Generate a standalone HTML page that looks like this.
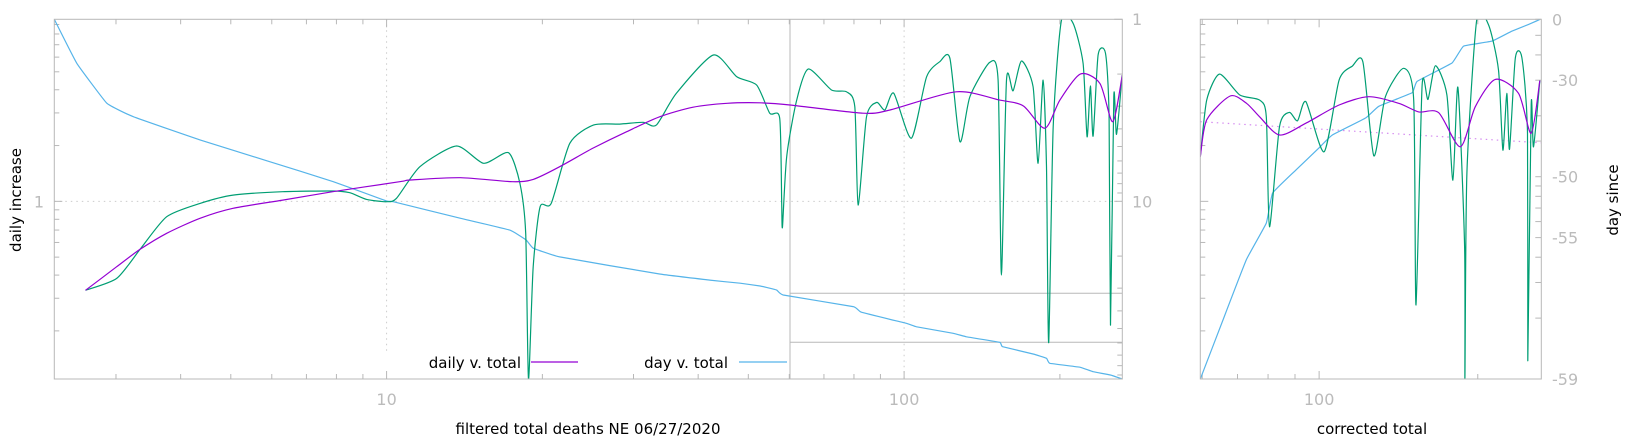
<!DOCTYPE html>
<html><head><meta charset="utf-8"><style>
html,body{margin:0;padding:0;background:#fff;}
svg{display:block;font-family:"DejaVu Sans","Liberation Sans",sans-serif;}
.tl{fill:#bbbbbb;font-size:16px;}
.ttl{fill:#000;font-size:15px;}
</style></head><body>
<svg id="chart" width="1640" height="440" viewBox="0 0 1640 440" xmlns="http://www.w3.org/2000/svg">
<defs>
<clipPath id="cm"><rect x="54.3" y="19.3" width="1068" height="359.7"/></clipPath>
<clipPath id="cr"><rect x="1200.3" y="19.3" width="341" height="359.7"/></clipPath>
</defs>
<g id="g"></g>
</svg>
<script>
// ---- main panel data: x = total deaths ----
const purpleX = [2.62,3.01,3.34,3.76,4.36,5.05,6.30,7.87,10.6,11.1,13.9,17.5,19.2,21.6,25.0,29.1,33.7,39.1,45.5,52.7,60.2,83.2,93.9,126,153,170,187,200,219,239,253,264];
const purpleY = [0.331,0.444,0.551,0.672,0.810,0.917,1.016,1.127,1.276,1.303,1.341,1.276,1.314,1.537,1.93,2.375,2.86,3.22,3.38,3.40,3.31,2.99,3.11,3.90,3.52,3.27,2.48,3.52,4.86,4.33,2.69,4.80];
const greenX = [2.62,3.01,3.34,3.76,4.36,5.05,6.30,7.87,8.49,9.15,10,10.45,11.6,13.65,15.4,17.2,18.1,18.57,18.8,19.2,19.8,20.8,22.6,25.1,28.2,31.3,33.2,36.3,42.8,47.5,51.9,55.0,57.5,58.0,58.2,59.3,62.0,65.3,72.4,77.4,80.3,81.5,84.6,88.5,91.8,95.5,103.3,110.5,117.2,122.6,128.2,134,146.4,151.9,154.2,157.7,162.4,168.6,177.5,181.5,185.6,188.4,190.3,194.1,201.4,212.1,221.7,225.7,229.1,231.8,237.1,245,248.9,250.5,254.2,257.3,263.8];
const greenY = [0.331,0.384,0.551,0.826,0.975,1.081,1.127,1.137,1.113,1.025,0.995,1.038,1.537,1.988,1.604,1.829,1.251,0.672,0.11,0.444,0.935,0.975,2.056,2.58,2.61,2.67,2.58,3.83,6.16,4.70,4.24,2.99,2.81,0.975,0.729,1.741,3.52,5.18,3.99,3.90,3.24,0.955,2.86,3.42,3.11,3.83,2.19,4.70,5.67,5.91,2.10,3.67,5.63,4.51,0.40,4.51,3.95,5.72,4.15,1.604,4.51,1.537,0.173,2.53,9.52,9.13,5.56,2.23,4.19,2.25,6.16,6.29,2.86,0.215,3.67,2.30,4.80];
const blueX = [2.28,2.52,2.88,3.24,4.36,5.86,7.89,10,10.3,13.9,17.3,18.6,19.2,21.6,33.7,42.1,48.2,52.7,56.7,58.4,79.7,82.7,101,105.7,124.4,132,153,155,177.5,188.4,191.2,219,231.8,250.5,263.8];
const blueY = [1,1.745,2.89,3.43,4.60,5.98,7.80,9.96,10.05,12.4,14.4,16.3,18.1,20.2,25.1,27.1,28.2,29.2,30.7,32.7,37.9,40.7,46.8,48.9,53.1,55.5,59.5,62.9,69.0,72.9,77.6,81.7,86.4,90.0,94.7];
// ---- right panel data: x = corrected total ----
const rPurpleX = [59.5,61.2,67.8,72.8,77.1,84.1,94.4,109.1,124.3,141.6,154.5,168.6,185.3,197.9,215.9,239,252.6,262.3];
const rPurpleY = [1.741,2.75,3.70,3.38,2.86,2.28,2.64,3.31,3.67,3.38,3.04,3.01,1.97,3.24,4.55,3.83,2.33,4.48];
const rGreenX = [59.5,61.2,64.7,70.7,77.1,79.4,80.5,84.1,87.8,91.0,94.4,102.2,109.1,115.6,121.1,127,133.6,144.7,151.2,152.7,156.8,160.9,166.2,174.8,179.4,183.4,188.8,189.1,190.7,199.2,209.7,219,223.2,227.1,229.8,235.6,242.5,248.6,248.9,252.6,255.2,262.3];
const rGreenY = [1.741,3.52,4.86,3.75,3.52,2.86,0.729,2.53,3.02,2.72,3.45,1.85,4.51,5.37,5.65,1.76,3.67,5.22,3.52,0.276,4.21,3.55,5.39,3.75,1.30,4.12,0.569,0.11,1.416,9.6,8.94,5.11,1.89,3.83,1.91,5.91,5.96,2.33,0.138,3.31,1.97,4.48];
const rBlueX = [59.5,65.9,72.8,79.4,81.6,90.4,100,106,122.5,129.8,150.1,153.4,178.7,188,212.8,232.1,249.7,262.3];
const rBlueDay = [-59,-58.0,-56.1,-54.1,-51.7,-49.2,-46.1,-43.9,-40.5,-37.7,-34.0,-30.4,-23.5,-15.8,-13.2,-7.6,-3.4,0];
const trendX = [59.5,264];
const trendY = [2.69,2.07];
const dayTickLabels = ["0","-30","-50","-55","-59"];
const dayTickValues = [0,-30,-50,-55,-59];

const NS="http://www.w3.org/2000/svg";
const G=document.getElementById('g');
function mk(tag,attrs,parent){const e=document.createElementNS(NS,tag);for(const k in attrs)e.setAttribute(k,attrs[k]);(parent||G).appendChild(e);return e;}
const L=Math.log10;
const M={l:54.3,r:1122.3,t:19.3,b:379};
const xMain=v=>M.l+(L(v)-L(2.28))/(L(264)-L(2.28))*(M.r-M.l);
const yLeft=v=>M.b-(L(v)-L(0.11))/(L(9.6)-L(0.11))*(M.b-M.t);
const yRightMain=v=>M.t+L(v)/L(94.7)*(M.b-M.t);
const R={l:1200.3,r:1541.3,t:19.3,b:379};
const xR=v=>R.l+(L(v)-L(59.5))/(L(264)-L(59.5))*(R.r-R.l);
const yRL=yLeft;
const yDay=d=>R.b-L(d+60)/L(60)*(R.b-R.t);

const AX="#b8b8b8";
let e;
e=mk('line',{x1:M.l,x2:M.r,y1:yLeft(1),y2:yLeft(1),stroke:'#cccccc','stroke-dasharray':'1.5,4','stroke-width':1});

[10,100].forEach(v=>{e=mk('line',{x1:xMain(v),x2:xMain(v),y1:M.t,y2:v==10?353:M.b,stroke:'#cccccc','stroke-dasharray':'1.5,4','stroke-width':1});
});

function ticks(){
  const tk=(x1,y1,x2,y2)=>{e=mk('line',{x1,y1,x2,y2,stroke:AX,'stroke-width':1});};
  [3,4,5,6,7,8,9,10,20,30,40,50,60,70,80,90,100,200].forEach(v=>{const x=xMain(v),len=(v==10||v==100)?8:5;tk(x,M.b,x,M.b-len);tk(x,M.t,x,M.t+len);});
  [0.2,0.3,0.4,0.5,0.6,0.7,0.8,0.9,1,2,3,4,5,6,7,8,9].forEach(v=>{const y=yLeft(v),len=v==1?8:5;tk(M.l,y,M.l+len,y);});
  [1,2,3,4,5,6,7,8,9,10,20,30,40,50,60,70,80,90].forEach(v=>{const y=yRightMain(v),len=(v==1||v==10)?8:5;tk(M.r,y,M.r-len,y);});
  [60,70,80,90,100,200].forEach(v=>{const x=xR(v),len=v==100?8:5;tk(x,R.b,x,R.b-len);tk(x,R.t,x,R.t+len);});
  [0.2,0.3,0.4,0.5,0.6,0.7,0.8,0.9,1,2,3,4,5,6,7,8,9].forEach(v=>{const y=yRL(v),len=v==1?8:5;tk(R.l,y,R.l+len,y);});
  [0,-10,-20,-30,-40,-45,-50,-51,-52,-53,-54,-55,-56,-57,-58,-59].forEach(d=>{const y=yDay(d);tk(R.r,y,R.r-6,y);});
}
ticks();

function path(xs,ys,fx,fy,color,name,tension,clip,extra){
  const P=xs.map((x,i)=>[fx(x),fy(ys[i])]);
  let d='M'+P[0][0].toFixed(1)+','+P[0][1].toFixed(1);
  for(let i=0;i<P.length-1;i++){
    const p0=P[Math.max(0,i-1)],p1=P[i],p2=P[i+1],p3=P[Math.min(P.length-1,i+2)];
    if(tension>0){
      const t=tension/6;
      const c1=[p1[0]+(p2[0]-p0[0])*t,p1[1]+(p2[1]-p0[1])*t];
      const c2=[p2[0]-(p3[0]-p1[0])*t,p2[1]-(p3[1]-p1[1])*t];
      d+='C'+c1[0].toFixed(1)+','+c1[1].toFixed(1)+' '+c2[0].toFixed(1)+','+c2[1].toFixed(1)+' '+p2[0].toFixed(1)+','+p2[1].toFixed(1);
    } else d+='L'+p2[0].toFixed(1)+','+p2[1].toFixed(1);
  }
  const p=mk('path',Object.assign({d,fill:'none',stroke:color,'stroke-width':1.2,'stroke-linejoin':'round','clip-path':'url(#'+clip+')'},extra||{}));
  
  
  return p;
}
const PUR='#9400d3',GRN='#009e73',BLU='#56b4e9';
e=mk('line',{x1:790,x2:790,y1:M.t,y2:M.b,stroke:AX,'stroke-width':1});
e=mk('line',{x1:790,x2:M.r,y1:293.3,y2:293.3,stroke:AX,'stroke-width':1});
e=mk('line',{x1:790,x2:M.r,y1:342.3,y2:342.3,stroke:AX,'stroke-width':1});

path(blueX,blueY,xMain,yRightMain,BLU,'day-v-total-line',0.3,'cm');
path(greenX,greenY,xMain,yLeft,GRN,'daily-raw-line',0.7,'cm');
path(purpleX,purpleY,xMain,yLeft,PUR,'daily-v-total-line',0.8,'cm');

path(trendX,trendY,xR,yRL,'#d58cf0','trend-line',0,'cr',{'stroke-dasharray':'1.5,4'});
path(rBlueX,rBlueDay,xR,yDay,BLU,'day-since-line',0.3,'cr');
path(rGreenX,rGreenY,xR,yRL,GRN,'corrected-raw-line',0.7,'cr');
path(rPurpleX,rPurpleY,xR,yRL,PUR,'corrected-daily-line',0.8,'cr');

e=mk('rect',{x:M.l,y:M.t,width:M.r-M.l,height:M.b-M.t,fill:'none',stroke:AX,'stroke-width':1});
e=mk('rect',{x:R.l,y:R.t,width:R.r-R.l,height:R.b-R.t,fill:'none',stroke:AX,'stroke-width':1});

function txt(x,y,s,cls,anchor,name,rot){
  const t=mk('text',{x,y,class:cls,'text-anchor':anchor||'middle'});
  if(rot)t.setAttribute('transform','rotate(-90 '+x+' '+y+')');
  t.textContent=s;
  
  
  return t;
}
txt(44,yLeft(1)+6,'1','tl','end','y-left-tick-label');
txt(xMain(10),405,'10','tl','middle','x-tick-label-10');
txt(xMain(100),405,'100','tl','middle','x-tick-label-100');
txt(xR(100),405,'100','tl','middle','right-x-tick-label-100');
txt(1132,25,'1','tl','start','y-right-tick-label-1');
txt(1132,yRightMain(10)+6,'10','tl','start','y-right-tick-label-10');
dayTickValues.forEach((d,i)=>{txt(1552,yDay(d)+6,dayTickLabels[i],'tl','start','day-tick-label');});
txt(21,200,'daily increase','ttl','middle','y-axis-title',true);
txt(1618,200,'day since','ttl','middle','right-y-axis-title',true);
txt(588,434,'filtered total deaths NE 06/27/2020','ttl','middle','x-axis-title');
txt(1372,434,'corrected total','ttl','middle','right-x-axis-title');
txt(521,368,'daily v. total','ttl','end','legend-label-daily');
e=mk('line',{x1:531,x2:578,y1:362,y2:362,stroke:PUR,'stroke-width':1.2});
txt(728,368,'day v. total','ttl','end','legend-label-day');
e=mk('line',{x1:739,x2:787,y1:362,y2:362,stroke:BLU,'stroke-width':1.2});
</script>
</body></html>
